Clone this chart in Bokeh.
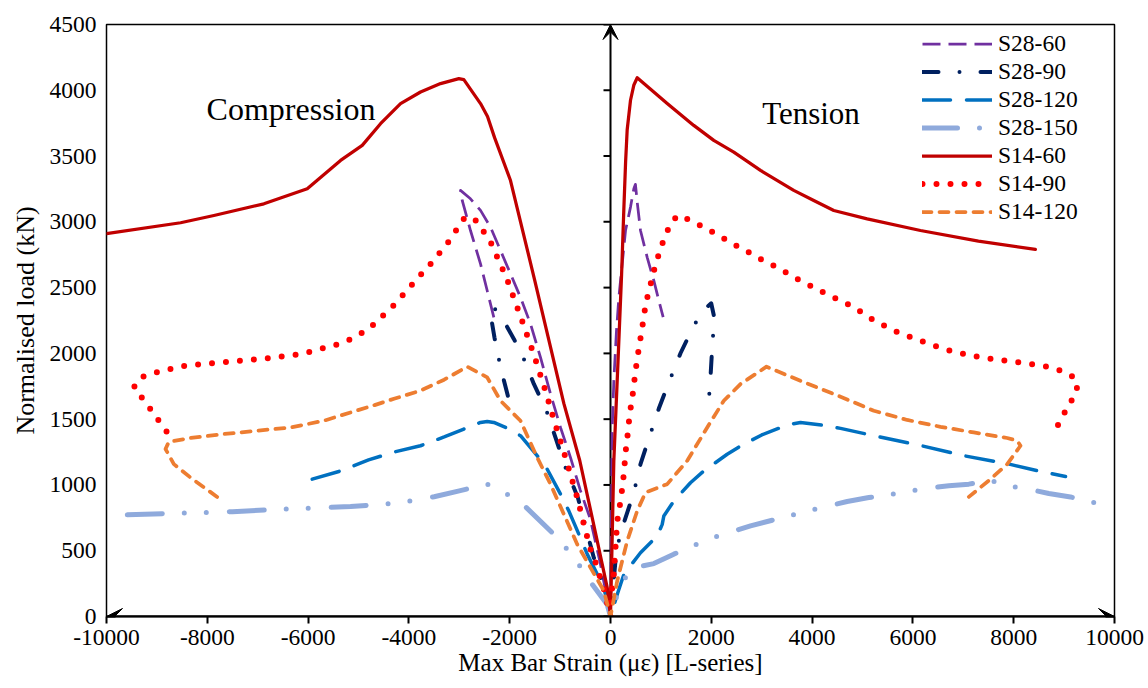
from bokeh.plotting import figure
from bokeh.models import (Range1d, LinearAxis, FixedTicker, Arrow, VeeHead, Label,
                          Legend, LegendItem)
from bokeh.embed import file_html
from bokeh.resources import INLINE
import numpy as np

# ---------------- data ----------------
X_TICKS = [-10000, -8000, -6000, -4000, -2000, 0, 2000, 4000, 6000, 8000, 10000]
X_TICK_LABELS = ["-10000", "-8000", "-6000", "-4000", "-2000", "0", "2000", "4000", "6000", "8000", "10000"]
Y_TICKS = [0, 500, 1000, 1500, 2000, 2500, 3000, 3500, 4000, 4500]
Y_TICK_LABELS = ["0", "500", "1000", "1500", "2000", "2500", "3000", "3500", "4000", "4500"]

SERIES = ["S28-60", "S28-90", "S28-120", "S28-150", "S14-60", "S14-90", "S14-120"]

S28_60_X = [-2315, -2447, -2579, -2778, -2942, -2976, -2778, -2579, -2381, -2182, -1984, -1786, -1587, -1389,
            -1190, -992, -793, -600, -400, -200, 0, 15, 33, 66, 119, 166, 232, 298, 397, 463, 495, 530, 595,
            728, 860, 959, 1045]
S28_60_Y = [2274, 2478, 2680, 2934, 3163, 3239, 3175, 3087, 2960, 2782, 2605, 2426, 2224, 1970,
            1691, 1437, 1208, 960, 740, 400, 0, 600, 1412, 1792, 2173, 2426, 2680, 2934, 3112, 3252, 3285, 3150, 2934,
            2730, 2553, 2401, 2275]

S28_90_X = [-2037, -2182, -2301, -2381, -2330, -2200, -2083, -1918, -1733, -1521, -1270, -1091, -893, -648, -331,
            -132, 0, 119, 278, 463, 595, 774, 959, 1171, 1389, 1621, 1820, 1998, 2064, 2024, 1990, 1951]
S28_90_Y = [1678, 1894, 2118, 2300, 2356, 2290, 2224, 2110, 1970, 1768, 1564, 1360, 1133, 905, 447,
            220, 0, 512, 727, 942, 1158, 1368, 1581, 1792, 2001, 2186, 2320, 2381, 2264, 2086, 1860, 1640]

S28_120_X = [-5918, -5390, -4800, -4300, -3770, -3300, -2910, -2580, -2446, -2315, -2083, -1786, -1455, -1256,
             -992, -827, -629, -462, -297, -132, 0, 133, 265, 595, 927, 1026, 1058, 1256, 1587, 1851, 2315, 2580,
             3000, 3500, 3770, 4200, 4564, 5324, 6185, 7024, 7877, 8466, 9028]
S28_120_Y = [1044, 1102, 1190, 1250, 1298, 1365, 1425, 1475, 1483, 1475, 1437, 1374, 1222, 1120,
             930, 803, 626, 474, 347, 220, 0, 167, 320, 485, 612, 700, 764, 877, 1017, 1106, 1233, 1296,
             1380, 1455, 1475, 1455, 1430, 1366, 1297, 1221, 1161, 1108, 1064]

S28_150_X = [-9587, -8794, -7500, -6778, -5158, -4200, -3500, -3000, -2447, -2050, -1686, -1157, -873, -609, -364,
             -66, 0, 200, 463, 860, 1256, 1951, 2348, 2778, 3770, 4696, 5126, 5886, 6283, 6713, 7110, 7540, 7871,
             8280, 8697, 9127, 9788]
S28_150_Y = [773, 783, 797, 811, 836, 862, 910, 955, 1006, 930, 834, 638, 516, 384, 245,
             92, 0, 250, 372, 402, 474, 588, 638, 689, 788, 874, 904, 948, 976, 994, 1006, 1036, 994,
             969, 935, 909, 849]

S14_60_X = [-10000, -8530, -7869, -6877, -6017, -5356, -4926, -4563, -4166, -3769, -3372, -3009, -2910, -2579,
            -2440, -2300, -1984, -1500, -926, -609, -300, -65, 0, 66, 150, 220, 265, 300, 331, 397, 462, 530, 1125,
            1652, 2049, 2446, 2976, 3636, 4033, 4430, 5092, 6150, 7300, 8430]
S14_60_Y = [2910, 2993, 3048, 3137, 3252, 3467, 3581, 3746, 3899, 3987, 4051, 4089, 4081, 3899,
            3800, 3640, 3314, 2550, 1620, 1184, 640, 219, 0, 1184, 1950, 2600, 3100, 3460, 3700, 3924, 4038, 4095, 3899,
            3733, 3619, 3530, 3391, 3239, 3162, 3086, 3023, 2934, 2853, 2790]

S14_90_X = [-8809, -8962, -9127, -9292, -9458, -9325, -9061, -8532, -7738, -6924, -6131, -5343, -5080, -4780,
            -4280, -3736, -3538, -3208, -2910, -2810, -2712, -2394, -2063, -1786, -1521, -1276, -1124, -893,
            -661, -529, -397, -297, -132, 0, 33, 66, 99, 133, 179, 218, 252, 278, 298, 331, 383, 430, 463, 530,
            576, 615, 661, 695, 761, 827, 893, 972, 1058, 1171, 1323, 1568, 1806, 2050, 2282, 2514, 2758, 2996,
            3228, 3472, 3704, 4220, 4820, 5220, 5622, 6105, 6614, 7143, 7672, 8208, 8743, 8994, 9232, 9260,
            9127, 8994, 8863]
S14_90_Y = [1407, 1488, 1576, 1661, 1742, 1817, 1851, 1901, 1932, 1958, 1995, 2076, 2121, 2191,
            2373, 2610, 2693, 2851, 3023, 3040, 3031, 2858, 2574, 2282, 1991, 1698, 1496, 1209,
            905, 702, 511, 410, 207, 0, 220, 322, 524, 722, 829, 930, 1037, 1146, 1247, 1349, 1547, 1653, 1760, 1963,
            2064, 2168, 2270, 2371, 2473, 2574, 2675, 2769, 2866, 2968, 3048, 3016, 2968, 2917, 2866, 2815, 2765, 2714,
            2668, 2617, 2566, 2464, 2353, 2252, 2173, 2102, 2033, 1983, 1952, 1927, 1894, 1861, 1810, 1717,
            1628, 1539, 1445]

S14_120_X = [-7804, -8333, -8664, -8829, -8763, -8333, -7672, -7010, -6349, -5688, -5159, -4680, -4280, -3770,
             -3300, -2844, -2447, -2182, -1786, -1455, -1190, -926, -661, -397, -132, 0, 133, 331, 530, 695, 1125,
             1522, 1919, 2248, 2580, 3095, 3770, 4564, 5225, 5886, 6548, 7209, 7871, 8070, 8135, 7871, 7540, 7110]
S14_120_Y = [909, 1056, 1158, 1273, 1328, 1357, 1387, 1412, 1437, 1488, 1551, 1607, 1657, 1717,
             1800, 1899, 1818, 1640, 1488, 1209, 1006, 778, 549, 372, 195, 0, 270, 574, 803, 943, 1006,
             1184, 1437, 1640, 1767, 1899, 1792, 1671, 1564, 1494, 1442, 1399, 1357, 1336, 1298, 1158, 1044, 909]

SERIES_X = [S28_60_X, S28_90_X, S28_120_X, S28_150_X, S14_60_X, S14_90_X, S14_120_X]
SERIES_Y = [S28_60_Y, S28_90_Y, S28_120_Y, S28_150_Y, S14_60_Y, S14_90_Y, S14_120_Y]

# ---------------- styles ----------------
STYLES = {
    "S28-60": dict(color="#7030A0", width=2.75, dash="18 8", cap="butt"),
    "S28-90": dict(color="#002060", width=4, dash="16 21 0 21", cap="round"),
    "S28-120": dict(color="#0070C0", width=3.5, dash="28 16", cap="round"),
    "S28-150": dict(color="#8FAADC", width=5, dash="35 22 0 22 0 23", cap="round"),
    "S14-60": dict(color="#C00000", width=3.25, dash="solid", cap="round"),
    "S14-90": dict(color="#FF0000", width=6, dash="0 14", cap="round"),
    "S14-120": dict(color="#ED7D31", width=3.75, dash="9 8", cap="round"),
}

FONT = "Liberation Serif"
X_MIN, X_MAX = -10000, 10000
Y_MIN, Y_MAX = 0, 4500

p = figure(width=1146, height=686, x_range=Range1d(X_MIN, X_MAX), y_range=Range1d(Y_MIN, Y_MAX),
           output_backend="svg", toolbar_location=None,
           x_axis_location=None, y_axis_location=None,
           min_border_left=106, min_border_right=32, min_border_top=24, min_border_bottom=70)
p.outline_line_color = "black"
p.outline_line_width = 1.5
p.background_fill_color = "white"
p.border_fill_color = "white"
p.grid.visible = False

xaxis = LinearAxis(ticker=FixedTicker(ticks=X_TICKS),
                   major_label_overrides={t: s for t, s in zip(X_TICKS, X_TICK_LABELS)},
                   axis_label="Max Bar Strain (\u03bc\u03b5) [L-series]")
xaxis.axis_line_color = "black"
xaxis.axis_line_width = 2
xaxis.major_tick_in = 0
xaxis.major_tick_out = 7
xaxis.major_tick_line_width = 2
xaxis.minor_tick_line_color = None
xaxis.major_label_standoff = 6
xaxis.axis_label_standoff = 1
xaxis.major_label_text_font = FONT
xaxis.major_label_text_font_size = "23.5px"
xaxis.major_label_text_color = "black"
xaxis.axis_label_text_font = FONT
xaxis.axis_label_text_font_size = "25px"
xaxis.axis_label_text_font_style = "normal"
xaxis.axis_label_text_color = "black"
p.add_layout(xaxis, "below")

yaxis = LinearAxis(ticker=FixedTicker(ticks=Y_TICKS),
                   major_label_overrides={t: s for t, s in zip(Y_TICKS, Y_TICK_LABELS)},
                   axis_label="Normalised load (kN)")
yaxis.axis_line_color = None
yaxis.major_tick_line_color = None
yaxis.minor_tick_line_color = None
yaxis.major_tick_in = 0
yaxis.major_tick_out = 0
yaxis.major_label_standoff = 10
yaxis.axis_label_standoff = 7
yaxis.major_label_text_font = FONT
yaxis.major_label_text_font_size = "23.5px"
yaxis.major_label_text_color = "black"
yaxis.major_label_text_baseline = "alphabetic"
yaxis.axis_label_text_font = FONT
yaxis.axis_label_text_font_size = "26px"
yaxis.axis_label_text_font_style = "normal"
yaxis.axis_label_text_color = "black"
p.add_layout(yaxis, "left")

# central (zero-strain) load axis with arrow and inner ticks
p.add_layout(Arrow(end=VeeHead(size=15, fill_color="black", line_color="black", line_width=1),
                   x_start=0, y_start=Y_MIN, x_end=0, y_end=Y_MAX,
                   line_color="black", line_width=2, level="underlay"))
p.ray(x=[0] * len(Y_TICKS), y=Y_TICKS, length=7, length_units="screen", angle=np.pi,
      line_color="black", line_width=2, level="underlay")
# double-headed strain axis
p.add_layout(Arrow(start=VeeHead(size=16, fill_color="black", line_color="black", line_width=1),
                   end=VeeHead(size=16, fill_color="black", line_color="black", line_width=1),
                   x_start=X_MIN, y_start=0, x_end=X_MAX, y_end=0,
                   line_color="black", line_width=2))

items = []
for name, xs, ys in zip(SERIES, SERIES_X, SERIES_Y):
    st = STYLES[name]
    r = p.line(xs, ys, line_color=st["color"], line_width=st["width"], line_dash=st["dash"],
               line_cap=st["cap"], line_join="round")
    items.append(LegendItem(label=name, renderers=[r]))

legend = Legend(items=items, location=(816, 391), padding=0, spacing=1, margin=0,
                glyph_width=70, glyph_height=27, label_height=27, label_standoff=6,
                border_line_color=None, background_fill_alpha=0,
                label_text_font=FONT, label_text_font_size="23.5px", label_text_color="black")
p.add_layout(legend)

p.add_layout(Label(x=-8014, y=3861, text="Compression", text_font=FONT, text_font_size="32px",
                   text_baseline="alphabetic", text_align="left", text_color="black"))
p.add_layout(Label(x=3009, y=3822, text="Tension", text_font=FONT, text_font_size="31px",
                   text_baseline="alphabetic", text_align="left", text_color="black"))

open("out.html", "w").write(file_html(p, INLINE))
